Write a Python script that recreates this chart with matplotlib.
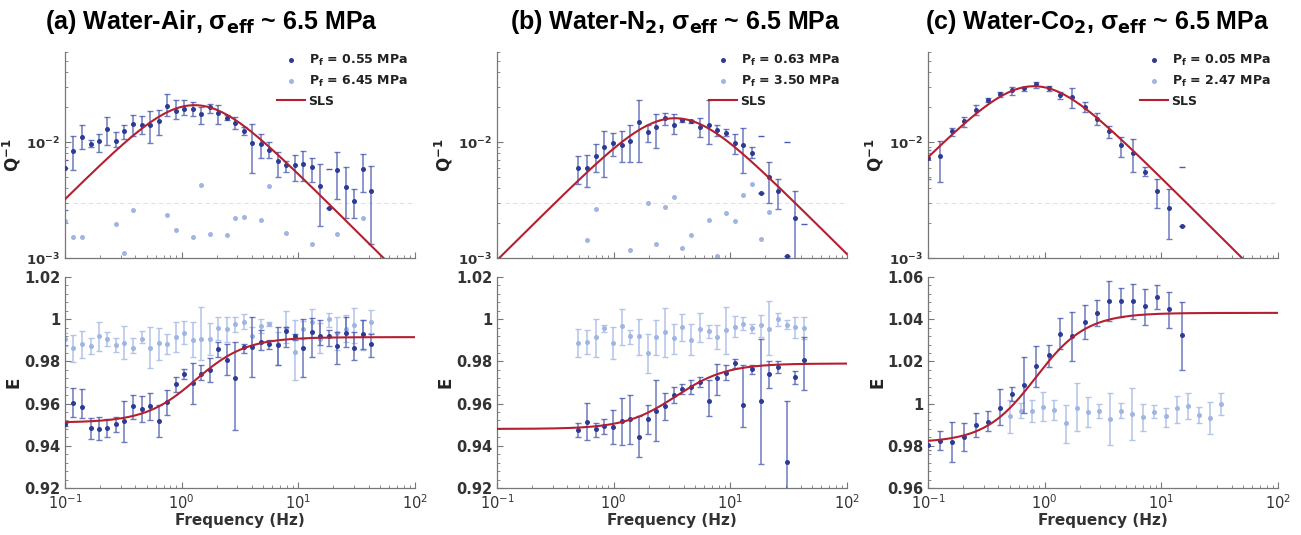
import numpy as np
import matplotlib; matplotlib.use("Agg")
import matplotlib.pyplot as plt
from matplotlib.ticker import LogLocator, AutoMinorLocator, FuncFormatter, NullFormatter
from matplotlib.lines import Line2D

plt.rcParams['font.family'] = ['DejaVu Sans']
plt.rcParams['mathtext.fontset'] = 'custom'
plt.rcParams['mathtext.bf'] = 'DejaVu Sans:bold'
plt.rcParams['mathtext.rm'] = 'DejaVu Sans:bold'
plt.rcParams['mathtext.default'] = 'bf'

# ---------------- (a) Water-Air ----------------
A_F = [0.100, 0.118, 0.140, 0.166, 0.195, 0.231, 0.273, 0.323, 0.383, 0.453, 0.535, 0.635, 0.75, 0.888,
       1.05, 1.24, 1.46, 1.74, 2.05, 2.43, 2.87, 3.39, 4.02, 4.75, 5.6, 6.64, 7.86, 9.3, 11.0, 13.0,
       15.4, 18.2, 21.5, 25.5, 30.2, 35.7, 42.3]
A_Q = [.00598, .00846, .0110, .00973, .0102, .0131, .0102, .0124, .0144, .0141, .0141, .0152, .0206, .0185,
       .0195, .0195, .0174, .0200, .0180, .0163, .0147, .0126, .00987, .00973, .00858, .00684, .0064, .00631,
       .00648, .00606, .0042, .00272, .00578, .00414, .00311, .00586, .00375]
A_QHI = [.0070, .0113, .0140, .0105, .0118, .0165, .0122, .0141, .0173, .0168, .0185, .0188, .0258, .0230,
         .0230, .0220, .0201, .0215, .0208, .0173, .0165, .0135, .0144, .0118, .0101, .00819, .00684, .00776,
         .00847, .00726, .00648, .00272, .00819, .00606, .00393, .00792, .00627]
A_QLO = [.0026, .00578, .00875, .00905, .00819, .00936, .00905, .0107, .0114, .0118, .00987, .0116, .0168, .0157,
         .0171, .0168, .0144, .0180, .0144, .0154, .0131, .0116, .00541, .00726, .00726, .00496, .00556, .00464,
         .00464, .00449, .00188, .00272, .00326, .00223, .00223, .00372, .00131]
A_CAP_F = [18.2]
A_CAP_Q = [.00586]
A_QL_F = [0.1, 0.118, 0.140, 0.273, 0.323, 0.383, 0.75, 0.888, 1.24, 1.46, 1.74, 2.43, 2.87, 3.39, 4.75, 5.6,
          7.86, 13.0, 21.5, 35.7]
A_QL = [.00208, .00151, .00151, .00198, .00110, .00260, .00237, .00174, .00153, .00428, .00161, .00159, .00223,
        .00226, .00211, .00420, .00164, .00131, .00160, .00223]
A_E = [.9502, .9603, .9584, .9486, .9481, .9486, .9502, .9517, .9589, .9576, .9590, .9516, .9606, .9691,
       .9739, .9699, .9742, .9761, .9857, .9808, .9721, .9870, .9868, .9893, .9881, .9876, .9944, .9920,
       .9865, .9939, .9919, .9919, .9875, .9935, .9865, .9928, .9884]
A_EHI = [.9510, .9674, .9668, .9533, .9536, .9529, .9536, .9611, .9642, .9636, .9650, .9592, .9666, .9726,
         .9766, .9792, .9781, .9816, .9892, .9882, .9892, .9884, 1.0010, .9947, .9900, .9963, .9963, .9931,
         1.0002, 1.0006, .9995, .9947, .9939, 1.0010, .9939, .9995, .9931]
A_ELO = [.9494, .9537, .9533, .9434, .9426, .9442, .9465, .9418, .9529, .9513, .9521, .9442, .9547, .9655,
         .9715, .9600, .9710, .9702, .9821, .9734, .9476, .9841, .9726, .9852, .9860, .9781, .9868, .9900,
         .9726, .9821, .9876, .9873, .9789, .9868, .9805, .9860, .9821]
A_EL = [.9905, .9862, .9881, .9873, .9922, .9906, .9878, .9889, .9865, .9906, .9865, .9886, .9881, .9917,
        .9936, .9901, .9905, .9905, .9957, .9952, .9977, .9985, .9922, .9966, .9976, .9881, .9957, .9843,
        .9952, .9985, .9906, 1.0001, .9933, .9954, .9973, .9925, .9988]
A_ELHI = [.9935, .9925, .9944, .9909, .9985, .9938, .9909, .9968, .9912, .9944, .9962, .9957, .9930, .9985,
          .9990, .9985, 1.0059, .9980, 1.0012, 1.0012, 1.0012, 1.0025, .9965, .99995, .9986, .9941, 1.0039,
          .9996, .9990, 1.0048, .9981, 1.0028, 1.0012, 1.0020, 1.0052, .9996, 1.0044]
A_ELLO = [.9875, .9798, .9815, .9834, .9851, .9873, .9846, .9811, .9838, .9886, .9767, .9809, .9834, .9846,
          .9881, .9819, .9807, .9830, .9901, .9893, .9941, .9952, .9880, .9933, .9966, .9783, .9886, .9712,
          .9905, .9917, .9839, .9962, .9854, .9890, .9886, .9854, .9933]

# ---------------- (b) Water-N2 ----------------
B_F = [0.496, 0.589, 0.700, 0.831, 0.987, 1.17, 1.39, 1.65, 1.96, 2.32, 2.76, 3.28, 3.89, 4.62, 5.49,
       6.51, 7.74, 9.18, 10.9, 12.9, 15.3, 18.2, 21.6, 25.6, 30.4, 36.0, 42.5]
B_Q = [.00594, .00594, .00766, .00905, .00987, .00954, .0103, .0149, .0122, .0135, .0162, .0142, .0154, .0151,
       .0135, .0142, .0128, .0121, .00980, .00936, .00808, .00367, .00496, .00375, .00105, .00223, np.nan]
B_QHI = [.00755, .00776, .00967, .0124, .0121, .0124, .0141, .0230, .0141, .0176, .0180, .0174, .0158, .0156,
         .0163, .0233, .0140, .0129, .0117, .0132, .00905, .00367, .00679, .00480, .00105, .00381, np.nan]
B_QLO = [.00434, .00414, .00548, .00496, .00766, .00670, .00679, .00670, .0100, .00887, .0141, .0117, .0150, .0147,
         .0111, .00967, .0114, .0113, .00792, .00541, .00726, .00367, .00301, .00263, .00105, .0005, np.nan]
B_CAP_F = [18.2, 30.4, 42.5]
B_CAP_Q = [.0114, .0100, .00198]
B_QL_F = [0.589, 0.700, 1.39, 1.96, 2.32, 2.76, 3.28, 3.89, 4.62, 6.51, 7.74, 9.18, 10.9, 12.9, 15.3, 18.2, 21.6]
B_QL = [.00142, .00263, .00118, .00297, .00131, .00277, .00339, .00121, .00158, .00212, .00105, .00247, .00207,
        .00350, .00434, .00146, .00251]
B_E = [.9476, .9513, .9481, .9494, .9489, .9517, .9525, .9442, .9525, .9565, .9589, .9639, .9671, .9679, .9702,
       .9611, .9721, .9747, .9792, .9592, .9765, .9611, .9742, .9773, .9323, .9726, .9808]
B_EHI = [.9510, .9603, .9510, .9525, .9568, .9626, .9639, .9540, .9592, .9710, .9652, .9679, .9691, .9710, .9726,
         .9710, .9789, .9784, .9813, .9784, .9784, .9908, .9802, .9800, .9612, .9753, .9916]
B_ELO = [.9442, .9426, .9442, .9457, .9410, .9402, .9410, .9347, .9457, .9421, .9521, .9604, .9647, .9647, .9679,
         .9541, .9639, .9710, .9769, .9489, .9742, .9312, .9674, .9747, .9150, .9694, .9663]
B_EL = [.9887, .9892, .9916, .9958, .9887, .9966, .9919, .9919, .9840, .9916, .9939, .9911, .9961, .9903, .9955,
        .9942, .9916, .9947, .9965, .9979, .9958, .9974, .9955, .9999, .9974, .9961, .9958]
B_ELHI = [.9955, .9950, 1.0003, .9974, .9963, 1.0050, .9950, 1.0003, .9931, .9998, 1.0053, .9979, 1.0023, .9979,
          1.0029, .9974, .9971, 1.0058, 1.0015, 1.0010, .9979, 1.0021, 1.0085, 1.0029, .9995, 1.0010, 1.0010]
B_ELLO = [.9821, .9837, .9821, .9939, .9810, .9876, .9884, .9829, .9747, .9832, .9821, .9837, .9895, .9829, .9892,
          .9911, .9860, .9837, .9916, .9947, .9935, .9916, .9829, .9968, .9955, .9911, .9908]

# ---------------- (c) Water-CO2 ----------------
C_F = [0.100, 0.126, 0.160, 0.203, 0.257, 0.328, 0.414, 0.525, 0.668, 0.846, 1.08, 1.36, 1.73, 2.20, 2.79,
       3.54, 4.49, 5.72, 7.29, 9.2, 11.7, 14.9]
C_Q = [.00731, .00756, .0124, .0151, .0188, .0233, .0260, .0281, .0291, .0315, .0291, .0254, .0243, .0201, .0159,
       .0125, .00936, .00808, .00556, .00379, .00272, .00188]
C_QHI = [.0085, .0103, .0132, .0165, .0208, .0241, .0272, .0301, .0301, .0333, .0305, .0272, .0291, .0220, .0180,
         .0138, .0110, .0106, .00606, .00480, .00393, .00188]
C_QLO = [.0048, .00455, .0114, .0135, .0171, .0223, .0243, .0255, .0278, .0295, .0276, .0238, .0199, .0182, .0140,
         .0109, .00741, .00548, .00513, .00272, .00146, .00188]
C_CAP_F = [14.9]
C_CAP_Q = [.00614]
C_QL_F = []
C_QL = []
C_E = [.9805, .9824, .9817, .9841, .9899, .9915, .9981, 1.0044, 1.0088, 1.0180, 1.0230, 1.0332, 1.0321, 1.0387,
       1.0430, 1.0487, 1.0487, 1.0487, 1.0461, 1.0506, 1.0446, 1.0324]
C_EHI = [.9828, .9872, .9912, .9907, .9954, .9965, 1.0068, 1.0077, 1.0222, 1.0274, 1.0280, 1.0408, 1.0435, 1.0469,
         1.0490, 1.0581, 1.0550, 1.0565, 1.0545, 1.0561, 1.0529, 1.0482]
C_ELO = [.9781, .9778, .9723, .9773, .9844, .9868, .9899, 1.0013, .9954, 1.0080, 1.0175, 1.0261, 1.0203, 1.0305,
         1.0368, 1.0392, 1.0411, 1.0400, 1.0372, 1.0450, 1.0356, 1.0159]
C_EL_F = [0.50, 0.625, 0.78, 0.97, 1.21, 1.51, 1.88, 2.34, 2.9, 3.6, 4.5, 5.6, 7.0, 8.7, 10.9, 13.6, 16.9, 21.0,
          26.3, 32.6]
C_EL = [.9939, .9967, .9967, .9986, .9970, .9907, .9981, .9962, .9967, .9927, .9967, .9951, .9935, .9962, .9939,
        .9978, .9989, .9946, .9934, .9998]
C_ELHI = [1.0017, 1.0002, 1.0017, 1.0057, 1.0017, .9994, 1.0096, 1.0033, .9997, 1.0049, 1.0002, 1.0072, .9997,
          .9994, .9981, 1.0036, 1.0049, .9986, 1.0009, 1.0052]
C_ELLO = [.9863, .9931, .9915, .9918, .9923, .9813, .9868, .9891, .9931, .9805, .9931, .9828, .9871, .9931, .9891,
          .9907, .9927, .9907, .9855, .9946]

# SLS fit parameters: peak frequency, relaxed / unrelaxed modulus
SLS_FC = [1.29, 3.36, 0.81]
SLS_E0 = [0.951, 0.948, 0.9815]
SLS_EINF = [0.9915, 0.979, 1.043]

TITLES = [r"(a) Water-Air, σ$_{eff}$ ~ 6.5 MPa", r"(b) Water-N$_2$, σ$_{eff}$ ~ 6.5 MPa",
          r"(c) Water-Co$_2$, σ$_{eff}$ ~ 6.5 MPa"]
TITLE_X = [211, 675, 1097]       # title centres, px
LOW_P = ["0.55", "0.63", "0.05"]
HIGH_P = ["6.45", "3.50", "2.47"]
E_YLIM = [(0.92, 1.02), (0.92, 1.02), (0.96, 1.06)]

DARK = "#2c3b94"; DARK_ERR = "#4a5ab0"; LIGHT = "#9fb5e2"; LIGHT_ERR = "#b3c4ea"; RED = "#b3202f"

panels = [
    dict(f=A_F, q=A_Q, qhi=A_QHI, qlo=A_QLO, capf=A_CAP_F, capq=A_CAP_Q, qlf=A_QL_F, ql=A_QL,
         e=A_E, ehi=A_EHI, elo=A_ELO, elf=A_F, el=A_EL, elhi=A_ELHI, ello=A_ELLO),
    dict(f=B_F, q=B_Q, qhi=B_QHI, qlo=B_QLO, capf=B_CAP_F, capq=B_CAP_Q, qlf=B_QL_F, ql=B_QL,
         e=B_E, ehi=B_EHI, elo=B_ELO, elf=B_F, el=B_EL, elhi=B_ELHI, ello=B_ELLO),
    dict(f=C_F, q=C_Q, qhi=C_QHI, qlo=C_QLO, capf=C_CAP_F, capq=C_CAP_Q, qlf=C_QL_F, ql=C_QL,
         e=C_E, ehi=C_EHI, elo=C_ELO, elf=C_EL_F, el=C_EL, elhi=C_ELHI, ello=C_ELLO),
]

def sls(f, fc, e0, einf):
    u = f / fc; r = einf / e0
    E = e0 * (1 + u**2) / (1 + u**2 / r)
    Q = u * (np.sqrt(r) - 1 / np.sqrt(r)) / (1 + u**2)
    return E, Q

def style(ax):
    for sp in ["top", "right"]: ax.spines[sp].set_visible(False)
    for sp in ["left", "bottom"]: ax.spines[sp].set_color("#777"); ax.spines[sp].set_linewidth(0.9)
    ax.tick_params(which="both", direction="in", colors="#777", labelcolor="#333", labelsize=10.5)
    ax.tick_params(which="major", length=4); ax.tick_params(which="minor", length=2.5)
    ax.set_xscale("log"); ax.set_xlim(0.1, 100)
    ax.xaxis.set_minor_locator(LogLocator(base=10, subs=np.arange(2, 10)))
    for lab in ax.get_yticklabels(): lab.set_fontweight("bold")

fig = plt.figure(figsize=(13.01, 5.35), dpi=100)
lefts = [65, 497, 928]
W = 350
ff = np.logspace(-1, 2, 400)
for i, p in enumerate(panels):
    axq = fig.add_axes([lefts[i] / 1301, 1 - 258 / 535, W / 1301, 206 / 535])
    axe = fig.add_axes([lefts[i] / 1301, 1 - 488 / 535, W / 1301, 211 / 535])
    Ef, Qf = sls(ff, SLS_FC[i], SLS_E0[i], SLS_EINF[i])
    f = np.array(p["f"]); q = np.array(p["q"])
    # ---- attenuation
    axq.set_yscale("log")
    axq.axhline(3e-3, ls=(0, (4, 3)), color="#e2e2e2", lw=0.8, zorder=0)
    axq.errorbar(f, q, yerr=[q - np.array(p["qlo"]), np.array(p["qhi"]) - q], fmt="none",
                 ecolor=DARK_ERR, elinewidth=1.1, capsize=2, capthick=1.0, alpha=0.8, zorder=2)
    axq.plot(p["capf"], p["capq"], ls="none", marker="_", ms=4, mew=1.0, color=DARK_ERR, zorder=2)
    axq.plot(p["qlf"], p["ql"], "o", ms=3.6, color=LIGHT, mec="none", zorder=2)
    axq.plot(f, q, "o", ms=3.6, color=DARK, mec="none", zorder=3)
    axq.plot(ff, Qf, color=RED, lw=1.5, zorder=4)
    axq.set_ylim(1e-3, 6e-2)
    axq.yaxis.set_minor_locator(LogLocator(base=10, subs=np.arange(2, 10)))
    axq.yaxis.set_minor_formatter(NullFormatter())
    style(axq)
    axq.tick_params(axis="y", labelsize=9.5)
    axq.xaxis.set_minor_formatter(NullFormatter())
    axq.tick_params(axis="x", which="both", labelbottom=False)
    axq.set_ylabel(r"Q$^{-1}$", fontsize=12, fontweight="bold", color="#222")
    axq.yaxis.set_label_coords(-0.12, 0.5)
    h = [Line2D([], [], ls="none", marker="o", ms=3.6, color=DARK, mec="none"),
         Line2D([], [], ls="none", marker="o", ms=3.6, color=LIGHT, mec="none"),
         Line2D([], [], color=RED, lw=1.5)]
    leg = axq.legend(h, [f"P$_f$ = {LOW_P[i]} MPa", f"P$_f$ = {HIGH_P[i]} MPa", "SLS"],
                     loc="upper right", bbox_to_anchor=(1.0, 1.03), frameon=False, fontsize=9,
                     handlelength=2.2, handletextpad=0.3, labelspacing=0.45, borderaxespad=0.2)
    for t in leg.get_texts(): t.set_fontweight("bold"); t.set_color("#222")
    fig.text(TITLE_X[i] / 1301, 1 - 22 / 535, TITLES[i], ha="center", va="center", fontsize=18,
             fontweight="bold", family="Liberation Sans")
    # ---- modulus
    e = np.array(p["e"]); el = np.array(p["el"]); elf = np.array(p["elf"])
    axe.errorbar(elf, el, yerr=[el - np.array(p["ello"]), np.array(p["elhi"]) - el], fmt="none",
                 ecolor=LIGHT_ERR, elinewidth=1.1, capsize=2, capthick=1.0, zorder=1)
    axe.plot(elf, el, "o", ms=3.6, color=LIGHT, mec="none", zorder=2)
    axe.errorbar(f, e, yerr=[e - np.array(p["elo"]), np.array(p["ehi"]) - e], fmt="none",
                 ecolor=DARK_ERR, elinewidth=1.1, capsize=2, capthick=1.0, alpha=0.8, zorder=2)
    axe.plot(f, e, "o", ms=3.6, color=DARK, mec="none", zorder=3)
    axe.plot(ff, Ef, color=RED, lw=1.5, zorder=4)
    axe.set_ylim(*E_YLIM[i])
    axe.set_yticks(np.linspace(E_YLIM[i][0], E_YLIM[i][1], 6))
    axe.yaxis.set_major_formatter(FuncFormatter(lambda v, _: f"{v:.2f}".rstrip("0").rstrip(".")))
    axe.yaxis.set_minor_locator(AutoMinorLocator(5))
    style(axe)
    axe.set_ylabel("E", fontsize=12, fontweight="bold", color="#222")
    axe.yaxis.set_label_coords(-0.12, 0.5)
    axe.set_xlabel("Frequency (Hz)", fontsize=11, fontweight="bold", color="#333", labelpad=1)

fig.savefig("out.png", dpi=100)
